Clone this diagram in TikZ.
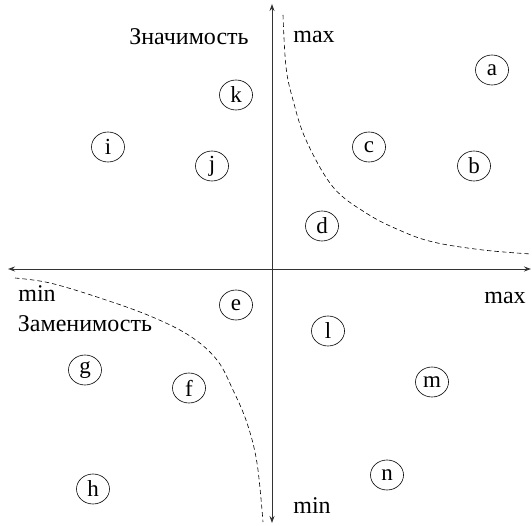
\documentclass[tikz,border=0pt]{standalone}
\usepackage{fontspec}
\setmainfont{Liberation Serif}
\usetikzlibrary{arrows.meta, positioning, shapes.geometric}

\begin{document}
\begin{tikzpicture}[
    x=1pt, y=-1pt,
    >={Stealth[length=7pt, width=5pt]},
    item/.style={draw, ellipse, inner sep=0pt, minimum width=33pt,
                 minimum height=30pt, line width=0.6pt, font=\fontsize{23}{25}\selectfont},
    lbl/.style={inner sep=0pt, font=\fontsize{24}{26}\selectfont},
    axis/.style={<->, line width=0.9pt, black!80},
    border/.style={line width=0.6pt, dash pattern=on 4.5pt off 3pt}
  ]
  \useasboundingbox (0,0) rectangle (532,526);

  % axes
  \coordinate (top) at (272,4);
  \coordinate (bottom) at (272,523);
  \coordinate (left) at (8,269);
  \coordinate (right) at (531,269);
  \draw[axis] (bottom) -- (top);
  \draw[axis] (left) -- (right);

  \node[lbl] (vmax) at (314,37) {max};
  \node[lbl] (vmin) at (312,506) {min};
  \node[lbl] (hmax) at (505,298) {max};
  \node[lbl] (hmin) at (37,294) {min};
  \node[lbl] (ylab) at (189,37) {Значимость};
  \node[lbl] (xlab) at (85,324) {Заменимость};

  % dashed borders
  \draw[border] plot[smooth, tension=0.6] coordinates {(283,15) (286,67) (293,100)
    (306,140) (333,187) (366,213) (399,230) (433,242) (483,250) (531,254)};
  \draw[border] plot[smooth, tension=0.6] coordinates {(15,278) (50,283) (100,298)
    (150,316) (190,336) (217,360) (233,390) (247,423) (257,463) (263,522)};

  % items
  \node[item] (a) at (492,70) {a};
  \node[item] (b) at (474,166) {b};
  \node[item] (c) at (369,147) {c};
  \node[item] (d) at (322,226) {d};
  \node[item] (e) at (236,305) {e};
  \node[item] (f) at (189,388) {f};
  \node[item] (g) at (85,370) {g};
  \node[item] (h) at (93,489) {h};
  \node[item] (i) at (108,147) {i};
  \node[item] (j) at (212,166) {j};
  \node[item] (k) at (236,95) {k};
  \node[item] (l) at (328,331) {l};
  \node[item] (m) at (432,382) {m};
  \node[item] (n) at (387,475) {n};
\end{tikzpicture}
\end{document}
